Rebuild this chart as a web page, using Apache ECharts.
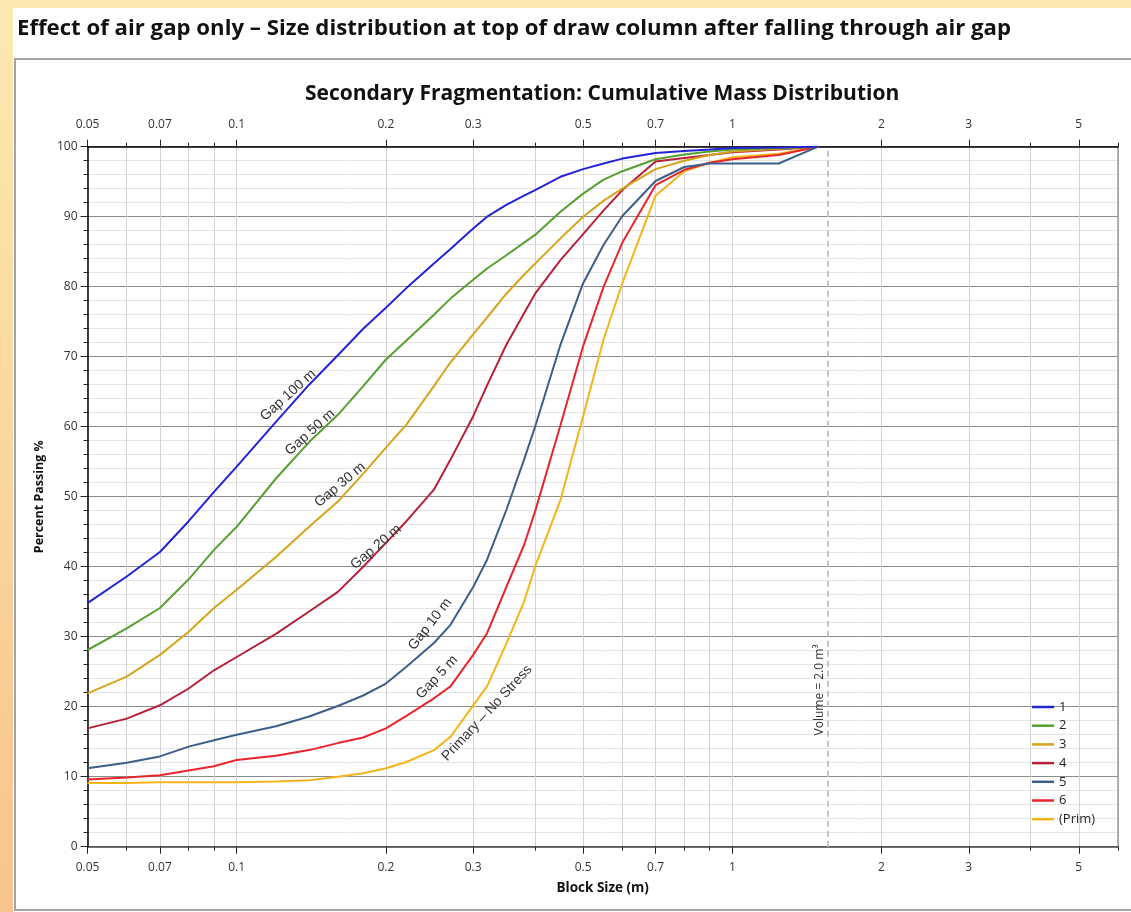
<!DOCTYPE html>
<html>
<head>
<meta charset="utf-8">
<script src="https://cdn.jsdelivr.net/npm/echarts@6.0.0/dist/echarts.min.js"></script>
<style>
html,body{margin:0;padding:0;background:#fff;}
#c{width:1131px;height:912px;}
</style>
</head>
<body>
<div id="c"></div>
<script>
// ---------- DATA ----------
const blockSizes = [0.05,0.06,0.07,0.08,0.09,0.1,0.12,0.14,0.16,0.18,0.2,0.22,0.25,0.27,0.3,0.32,0.35,0.38,0.4,0.45,0.5,0.55,0.6,0.7,0.8,0.9,1.0,1.24,1.49];
const gap100 = [34.8,38.6,42.1,46.5,50.7,54.3,60.7,66.0,70.2,74.0,77.0,79.8,83.3,85.4,88.3,90.0,91.7,93.0,93.8,95.7,96.8,97.6,98.3,99.1,99.4,99.6,99.8,99.9,100];
const gap50  = [28.1,31.2,34.1,38.2,42.4,45.7,52.6,57.8,61.7,65.8,69.6,72.3,76.0,78.3,81.0,82.6,84.5,86.3,87.4,90.7,93.3,95.3,96.5,98.2,98.9,99.3,99.6,99.8,100];
const gap30  = [21.9,24.3,27.4,30.7,34.1,36.7,41.4,45.7,49.3,53.3,57.0,60.3,65.8,69.2,73.2,75.6,79.0,81.7,83.3,86.9,90.0,92.3,94.0,96.8,98.0,98.8,99.3,99.7,100];
const gap20  = [16.9,18.3,20.2,22.6,25.2,27.1,30.4,33.6,36.4,40.0,43.4,46.5,51.0,55.3,61.5,65.9,71.7,76.2,79.0,83.8,87.5,90.9,93.8,97.9,98.4,98.8,99.2,99.6,100];
const gap10  = [11.2,12.0,12.9,14.3,15.2,16.0,17.2,18.6,20.1,21.6,23.3,25.7,29.1,31.7,37.1,41.0,48.1,55.3,60.0,71.7,80.5,86.0,90.1,95.1,97.1,97.6,97.6,97.6,100];
const gap5   = [9.6,9.9,10.2,10.9,11.5,12.4,13.0,13.8,14.8,15.6,16.9,18.7,21.2,22.9,27.4,30.5,37.1,43.1,47.9,60.2,71.5,80.0,86.3,94.5,96.7,97.7,98.2,98.8,100];
const primary= [9.1,9.1,9.2,9.2,9.2,9.2,9.3,9.5,10.0,10.5,11.2,12.1,13.8,15.7,20.2,22.9,29.0,35.0,40.0,49.5,61.5,72.5,80.5,93.0,96.5,97.7,98.5,99.0,100];

const seriesNames = ['1','2','3','4','5','6','(Prim)'];
const seriesValues = [gap100,gap50,gap30,gap20,gap10,gap5,primary];

const xLabelTicks = [0.05,0.07,0.1,0.2,0.3,0.5,0.7,1,2,3,5];
const xMinorTicks = [0.06,0.08,0.09,0.4,0.6,0.8,0.9,4,6];
const xMin = 0.05, xMax = 6;
const yMin = 0, yMax = 100, yStep = 10;

const volumeSize = 1.563;          // equivalent block size of a 2.0 m3 volume
const volumeLabel = 'Volume = 2.0 m³';
const volumeLabelAt = [1.5, 22.4];

const curveLabels = ['Gap 100 m','Gap 50 m','Gap 30 m','Gap 20 m','Gap 10 m','Gap 5 m','Primary – No Stress'];
const curveLabelX = [0.127,0.1406,0.1616,0.191,0.2455,0.2536,0.32];
const curveLabelY = [64.5,59.2,51.7,42.8,31.8,24.2,19.1];

const pageTitle = 'Effect of air gap only – Size distribution at top of draw column after falling through air gap';
const chartTitle = 'Secondary Fragmentation: Cumulative Mass Distribution';
const xName = 'Block Size (m)';
const yName = 'Percent Passing %';

// ---------- STYLE ----------
const colors = ['#2424d4','#56a030','#d5a31c','#b6213a','#3b5f88','#e8242c','#f3b51a'];
const labelRot = [42,42,40,40,52,47,47];
const FONT = 'Open Sans';

const allXTicks = xLabelTicks.concat(xMinorTicks).sort((a,b)=>a-b);
const fmt = v => String(+(+v).toPrecision(3));

function xAxisCfg(pos, ticks, len, labels, lineColor, split, margin, extra) {
  return Object.assign({
    type: 'log', logBase: 10, min: xMin, max: xMax, position: pos, gridIndex: 0,
    axisLine: { show: !!lineColor, onZero: false, lineStyle: { color: lineColor || '#000', width: 1.5 } },
    axisTick: { show: true, customValues: ticks, length: len, lineStyle: { color: '#222', width: 1 } },
    axisLabel: labels ? { show: true, customValues: labels, margin: margin, formatter: fmt,
      fontFamily: FONT, fontSize: 12, color: '#333' } : { show: false },
    splitLine: { show: split, lineStyle: { color: '#d3d3d3', width: 1 } },
    minorTick: { show: false }, minorSplitLine: { show: false }
  }, extra || {});
}

const series = seriesNames.map((n, i) => ({
  name: n, type: 'line', xAxisIndex: 0, yAxisIndex: 0,
  data: blockSizes.map((x, j) => [x, seriesValues[i][j]]),
  showSymbol: false, symbol: 'none', smooth: false,
  lineStyle: { color: colors[i], width: 2 }, itemStyle: { color: colors[i] },
  z: 3 + (6 - i),
  silent: true
}));
series[0].markLine = {
  silent: true, symbol: ['none','none'], label: { show: false },
  lineStyle: { color: '#c4c4c4', type: [6, 4], width: 2 },
  data: [{ xAxis: volumeSize }]
};

const chart = echarts.init(document.getElementById('c'), null, { renderer: 'canvas' });

const option = {
  animation: false,
  backgroundColor: 'transparent',
  title: [
    { text: pageTitle, left: 17, top: 18, padding: 0,
      textStyle: { fontFamily: FONT, fontWeight: 700, fontSize: 22.2, color: '#111' } },
    { text: chartTitle, left: 305, top: 84, padding: 0,
      textStyle: { fontFamily: FONT, fontWeight: 700, fontSize: 21, color: '#111' } }
  ],
  grid: { left: 87.5, right: 13, top: 146.7, bottom: 65.3, containLabel: false },
  legend: {
    orient: 'vertical', left: 1032, top: 700, padding: 0,
    itemWidth: 22, itemHeight: 2.5, itemGap: 4.7, icon: 'rect',
    textStyle: { fontFamily: FONT, fontSize: 13, color: '#222', lineHeight: 14 },
    data: seriesNames, selectedMode: false
  },
  xAxis: [
    xAxisCfg('bottom', allXTicks, 4, xLabelTicks, '#444', true, 15,
      { name: xName, nameLocation: 'middle', nameGap: 34,
        nameTextStyle: { fontFamily: FONT, fontWeight: 700, fontSize: 13.5, color: '#111' } }),
    xAxisCfg('bottom', xLabelTicks, 7, null, null, false, 0),
    xAxisCfg('top', allXTicks, 4, xLabelTicks, '#000', false, 16),
    xAxisCfg('top', xLabelTicks, 7, null, null, false, 0)
  ],
  yAxis: [
    { type: 'value', min: yMin, max: yMax, interval: yStep, position: 'left',
      axisLine: { show: true, onZero: false, lineStyle: { color: '#000', width: 1.5 } },
      axisTick: { show: true, length: 7, lineStyle: { color: '#222' } },
      minorTick: { show: true, splitNumber: 5, length: 4, lineStyle: { color: '#222' } },
      splitLine: { show: true, lineStyle: { color: '#8c8c8c', width: 1 } },
      minorSplitLine: { show: true, lineStyle: { color: '#e4e4e4', width: 1 } },
      axisLabel: { margin: 10, fontFamily: FONT, fontSize: 12, color: '#333' },
      name: yName, nameLocation: 'middle', nameGap: 39,
      nameTextStyle: { fontFamily: FONT, fontWeight: 700, fontSize: 12.5, color: '#111' } },
    { type: 'value', min: yMin, max: yMax, interval: yStep, position: 'right',
      axisLine: { show: true, onZero: false, lineStyle: { color: '#9a9a9a', width: 1.5 } },
      axisTick: { show: false }, axisLabel: { show: false }, splitLine: { show: false } }
  ],
  series: series
};
chart.setOption(option);

// ---------- decorations and annotations ----------
const W = 1131, H = 912;
const elements = [
  { type: 'rect', z: -20, silent: true, shape: { x: 0, y: 0, width: W, height: H },
    style: { fill: new echarts.graphic.LinearGradient(0, 0, 0, 1, [
      { offset: 0, color: '#fde9b0' }, { offset: 1, color: '#f8c48c' }]) } },
  { type: 'rect', z: -19, silent: true, shape: { x: 13, y: 8, width: W - 13, height: H - 8 },
    style: { fill: '#ffffff' } },
  { type: 'rect', z: -18, silent: true, shape: { x: 15, y: 59, width: W - 14, height: H - 61 },
    style: { fill: '#ffffff', stroke: '#a3a3a3', lineWidth: 2 } }
];
curveLabels.forEach((t, i) => {
  const p = chart.convertToPixel({ xAxisIndex: 0, yAxisIndex: 0 }, [curveLabelX[i], curveLabelY[i]]);
  elements.push({ type: 'text', z: 50, silent: true, x: p[0], y: p[1],
    rotation: labelRot[i] * Math.PI / 180,
    style: { text: t, font: '14px "Liberation Sans", Arial, sans-serif', fill: '#333',
      align: 'center', verticalAlign: 'middle' } });
});
const vp = chart.convertToPixel({ xAxisIndex: 0, yAxisIndex: 0 }, volumeLabelAt);
elements.push({ type: 'text', z: 50, silent: true, x: vp[0], y: vp[1], rotation: Math.PI / 2,
  style: { text: volumeLabel, font: '12px "Open Sans", sans-serif', fill: '#333',
    align: 'center', verticalAlign: 'middle' } });
chart.setOption({ graphic: { elements: elements } });
</script>
</body>
</html>
